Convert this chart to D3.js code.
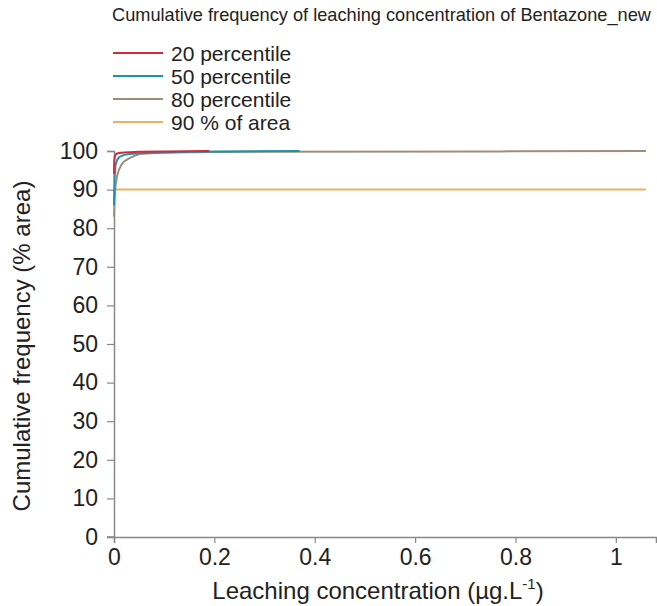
<!DOCTYPE html>
<html>
<head>
<meta charset="utf-8">
<script src="https://cdn.jsdelivr.net/npm/d3@7"></script>
<style>
  body { margin: 0; background: #fff; }
  text { font-family: "Liberation Sans", Arial, sans-serif; fill: #222; }
</style>
</head>
<body>
<svg width="657" height="606"></svg>
<script>
// cumulative frequency curves
const p20x = [0, 0.0005, 0.002, 0.005, 0.01, 0.02, 0.05, 0.1, 0.19];
const p20y = [94, 97.5, 98.8, 99.3, 99.5, 99.6, 99.8, 99.9, 100];

const p50x = [0, 0.001, 0.003, 0.006, 0.01, 0.02, 0.035, 0.06, 0.1, 0.2, 0.37];
const p50y = [86, 93, 96.3, 97.6, 98.4, 99.0, 99.3, 99.5, 99.7, 99.85, 100];

const p80x = [0, 0.001, 0.003, 0.006, 0.01, 0.015, 0.02, 0.03, 0.04, 0.05, 0.08, 0.15, 0.3, 0.77, 1.06];
const p80y = [83, 87, 91, 93.5, 95.2, 96.5, 97.3, 98.1, 98.7, 99.2, 99.5, 99.7, 99.8, 99.9, 100];

const areaX = [0, 1.06];
const areaY = [90, 90];

const seriesNames = ["20 percentile", "50 percentile", "80 percentile", "90 % of area"];
const seriesColors = ["#d42a3c", "#1b93aa", "#9f8d7c", "#e8b262"];

const xTicks = [0, 0.2, 0.4, 0.6, 0.8, 1];
const yTicks = [0, 10, 20, 30, 40, 50, 60, 70, 80, 90, 100];

const svg = d3.select("svg");

let x = d3.scaleLinear().domain([0, 1.08]).range([114, 656]);
let y = d3.scaleLinear().domain([0, 100]).range([537, 151]);

// axes
let yAxis = svg.append("g")
    .attr("transform", "translate(114,0)")
    .call(d3.axisLeft(y).tickValues(yTicks).tickSize(7).tickPadding(9).tickFormat(d3.format("d")));
let xAxis = svg.append("g")
    .attr("transform", "translate(0,537)")
    .call(d3.axisBottom(x).tickValues(xTicks).tickSize(6).tickPadding(6).tickFormat(d => d === 0 || d === 1 ? d : d3.format(".1f")(d)));

[xAxis, yAxis].forEach(a => {
    a.select(".domain").attr("stroke", "#888").attr("stroke-width", 1.5);
    a.selectAll(".tick line").attr("stroke", "#888").attr("stroke-width", 1.2);
    a.selectAll(".tick text").attr("font-size", 23).attr("fill", "#222")
        .attr("font-family", "Liberation Sans, Arial, sans-serif");
});
// extend x-axis line slightly left of origin like the reference
svg.append("line")
    .attr("x1", 107).attr("x2", 114).attr("y1", 537).attr("y2", 537)
    .attr("stroke", "#888").attr("stroke-width", 1.5);

let line = d3.line().x(d => x(d[0])).y(d => y(d[1]));

const series = [
    [areaX, areaY, 3],
    [p80x, p80y, 2],
    [p50x, p50y, 1],
    [p20x, p20y, 0]
];
series.forEach(s => {
    svg.append("path")
        .datum(d3.zip(s[0], s[1]))
        .attr("fill", "none")
        .attr("stroke", seriesColors[s[2]])
        .attr("stroke-width", 2)
        .attr("d", line);
});

// title
svg.append("text")
    .attr("x", 112).attr("y", 21)
    .attr("font-size", 18.2)
    .text("Cumulative frequency of leaching concentration of Bentazone_new");

// legend
let legend = svg.append("g").selectAll("g")
    .data(seriesNames)
    .enter().append("g")
    .attr("transform", (d, i) => "translate(113," + (53 + i * 23) + ")");
legend.append("line")
    .attr("x1", 0).attr("x2", 50)
    .attr("stroke", (d, i) => seriesColors[i])
    .attr("stroke-width", 2);
legend.append("text")
    .attr("x", 58).attr("dy", "0.36em")
    .attr("font-size", 21)
    .text(d => d);

// axis titles
svg.append("text")
    .attr("transform", "translate(30,346) rotate(-90)")
    .attr("text-anchor", "middle")
    .attr("font-size", 24)
    .text("Cumulative frequency (% area)");

let xl = svg.append("text")
    .attr("x", 378).attr("y", 599)
    .attr("text-anchor", "middle")
    .attr("font-size", 24);
xl.append("tspan").text("Leaching concentration (\u00b5g.L");
xl.append("tspan").attr("dy", -10).attr("font-size", 15).text("-1");
xl.append("tspan").attr("dy", 10).text(")");
</script>
</body>
</html>
